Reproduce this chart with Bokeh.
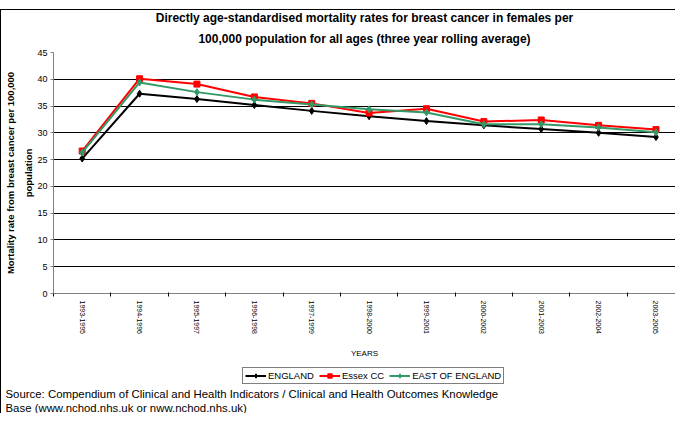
from bokeh.plotting import figure
from bokeh.layouts import column
from bokeh.models import (Title, LinearAxis, FixedTicker, Legend, LegendItem,
                          Range1d, Spacer)
from bokeh.embed import file_html
from bokeh.resources import INLINE

periods = ["1993-1995", "1994-1996", "1995-1997", "1996-1998", "1997-1999", "1998-2000",
           "1999-2001", "2000-2002", "2001-2003", "2002-2004", "2003-2005"]
england = [25.2, 37.3, 36.3, 35.2, 34.1, 33.1, 32.2, 31.4, 30.7, 30.0, 29.2]
essex = [26.6, 40.1, 39.1, 36.7, 35.5, 33.7, 34.5, 32.1, 32.4, 31.4, 30.6]
east = [26.3, 39.4, 37.6, 36.2, 35.3, 34.4, 33.8, 31.6, 31.6, 31.0, 30.1]
y_ticks = [0, 5, 10, 15, 20, 25, 30, 35, 40, 45]
series_names = ["ENGLAND", "Essex CC", "EAST OF ENGLAND"]

title_1 = "Directly age-standardised mortality rates for breast cancer in females per"
title_2 = "100,000 population for all ages (three year rolling average)"
ylabel_1 = "Mortality rate from breast cancer per 100,000"
ylabel_2 = "population"
xlabel = "YEARS"
source_1 = "Source: Compendium of Clinical and Health Indicators / Clinical and Health Outcomes Knowledge"
source_2 = "Base (www.nchod.nhs.uk or nww.nchod.nhs.uk)"

FONT = "Liberation Sans"
xs = list(range(len(periods)))
colors = ["#000000", "#FF0000", "#339966"]
markers = ["diamond", "square", "diamond"]
msizes = [7, 6, 7]
data = [england, essex, east]

# ---------------- main chart ----------------
p = figure(width=674, height=350, x_range=Range1d(-0.5, 10.34), y_range=Range1d(0, 45),
           output_backend="svg", toolbar_location=None,
           min_border_left=46, min_border_right=0, min_border_top=42, min_border_bottom=67)
p.outline_line_color = None
p.background_fill_color = "white"
p.border_fill_color = "white"

p.title.text = title_1
p.title.align = "center"
p.title.text_font = FONT
p.title.text_font_size = "12px"
p.title.text_font_style = "bold"
p.title.text_color = "#000"
p.title.standoff = -4
t2 = Title(text=title_2, align="center", text_font=FONT, text_font_size="12px",
           text_font_style="bold", text_color="#000", standoff=14)
p.add_layout(t2, "above")

ya = p.yaxis[0]
ya.ticker = FixedTicker(ticks=y_ticks, minor_ticks=[])
ya.axis_label = ylabel_2
ya.axis_label_text_font = FONT
ya.axis_label_text_font_size = "9.5px"
ya.axis_label_text_font_style = "bold"
ya.axis_label_text_color = "#000"
ya.axis_label_standoff = 0
ya.major_label_text_font = FONT
ya.major_label_text_font_size = "9px"
ya.major_label_text_color = "#000"
ya.major_label_standoff = 3
ya.major_tick_out = 3
ya.major_tick_in = 0
ya.major_tick_line_color = "#808080"
ya.axis_line_color = "#808080"
ya.minor_tick_line_color = None

extra = LinearAxis(ticker=FixedTicker(ticks=[0], minor_ticks=[]), axis_label=ylabel_1,
                   major_label_overrides={0: ""},
                   axis_label_text_font=FONT, axis_label_text_font_size="9.5px",
                   axis_label_text_font_style="bold", axis_label_text_color="#000",
                   axis_label_standoff=5,
                   axis_line_color=None, major_tick_line_color=None, minor_tick_line_color=None,
                   major_tick_out=0, major_tick_in=0, major_label_standoff=0)
p.add_layout(extra, "left")

xa = p.xaxis[0]
xa.ticker = FixedTicker(ticks=xs, minor_ticks=[i - 0.5 for i in range(len(periods) + 1)])
xa.major_label_overrides = {i: periods[i] for i in xs}
xa.major_label_orientation = "vertical"
xa.major_label_text_font = FONT
xa.major_label_text_font_size = "7px"
xa.major_label_text_color = "#000"
xa.major_label_standoff = 4
xa.major_tick_line_color = None
xa.major_tick_out = 0
xa.major_tick_in = 0
xa.minor_tick_line_color = "#000"
xa.minor_tick_out = 3
xa.minor_tick_in = 1
xa.axis_line_color = "#808080"
xa.axis_label = xlabel
xa.axis_label_text_font = FONT
xa.axis_label_text_font_size = "8px"
xa.axis_label_text_font_style = "normal"
xa.axis_label_text_color = "#000"
xa.axis_label_standoff = 12

p.xgrid.visible = False
p.ygrid.grid_line_color = "#000"
p.ygrid.grid_line_width = 1

for vals, c, mk, ms in zip(data, colors, markers, msizes):
    p.line(xs, vals, color=c, line_width=2)
    p.scatter(xs, vals, marker=mk, size=ms, color=c)

# ---------------- legend + source strip ----------------
b = figure(width=674, height=53, x_range=Range1d(0, 1), y_range=Range1d(0, 1),
           x_axis_type=None, y_axis_type=None, output_backend="svg", toolbar_location=None,
           min_border=0)
b.outline_line_color = None
b.background_fill_color = "white"
b.border_fill_color = "white"
b.grid.visible = False

items = []
for name, vals, c, mk, ms in zip(series_names, data, colors, markers, msizes):
    rl = b.line(xs, vals, color=c, line_width=2, visible=False)
    rm = b.scatter(xs, vals, marker=mk, size=ms, color=c, visible=False)
    items.append(LegendItem(label=name, renderers=[rl, rm]))

legend = Legend(items=items, orientation="horizontal", location=(189, 1),
                label_text_font=FONT, label_text_font_size="9.5px", label_text_color="#000",
                glyph_width=21, glyph_height=11, label_height=11, label_standoff=2,
                spacing=5, padding=2, margin=0,
                inactive_fill_alpha=0.0,
                border_line_color="black", border_line_width=1,
                background_fill_color="white", background_fill_alpha=1.0)
b.add_layout(legend)

for txt in [source_1, source_2]:
    b.add_layout(Title(text=txt, align="left", offset=-48, standoff=0, text_font=FONT,
                       text_font_size="11.4px", text_font_style="normal",
                       text_color="#000"), "below")

inner = column(p, b, styles={"border-left": "1px solid #000", "border-top": "1px solid #000"})
layout = column(Spacer(width=10, height=9), inner)

open("out.html", "w").write(file_html(layout, INLINE))
